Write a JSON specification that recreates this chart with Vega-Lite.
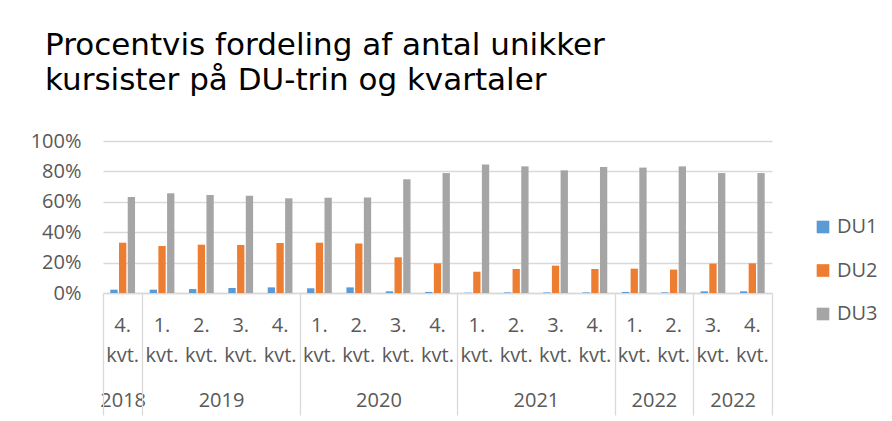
{
  "$schema": "https://vega.github.io/schema/vega-lite/v6.json",
  "width": 669,
  "height": 152,
  "autosize": "none",
  "padding": {"left": 103, "top": 141, "right": 120, "bottom": 128},
  "background": "white",
  "title": {
    "text": ["Procentvis fordeling af antal unikker", "kursister på DU-trin og kvartaler"],
    "anchor": "start",
    "frame": "group",
    "font": "DejaVu Sans",
    "fontSize": 31,
    "fontWeight": "normal",
    "color": "#000000",
    "lineHeight": 35,
    "dx": -58,
    "offset": 34
  },
  "config": {
    "view": {"stroke": null},
    "axis": {"labelFont": "Open Sans", "labelFontSize": 20, "labelColor": "#595959", "title": null}
  },
  "layer": [
    {
      "data": {
        "values": [
          {"key": "2018-4", "series": "DU1", "value": 0.022},
          {"key": "2018-4", "series": "DU2", "value": 0.331},
          {"key": "2018-4", "series": "DU3", "value": 0.632},
          {"key": "2019-1", "series": "DU1", "value": 0.022},
          {"key": "2019-1", "series": "DU2", "value": 0.309},
          {"key": "2019-1", "series": "DU3", "value": 0.656},
          {"key": "2019-2", "series": "DU1", "value": 0.026},
          {"key": "2019-2", "series": "DU2", "value": 0.318},
          {"key": "2019-2", "series": "DU3", "value": 0.645},
          {"key": "2019-3", "series": "DU1", "value": 0.033},
          {"key": "2019-3", "series": "DU2", "value": 0.316},
          {"key": "2019-3", "series": "DU3", "value": 0.640},
          {"key": "2019-4", "series": "DU1", "value": 0.037},
          {"key": "2019-4", "series": "DU2", "value": 0.329},
          {"key": "2019-4", "series": "DU3", "value": 0.623},
          {"key": "2020-1", "series": "DU1", "value": 0.031},
          {"key": "2020-1", "series": "DU2", "value": 0.331},
          {"key": "2020-1", "series": "DU3", "value": 0.627},
          {"key": "2020-2", "series": "DU1", "value": 0.037},
          {"key": "2020-2", "series": "DU2", "value": 0.325},
          {"key": "2020-2", "series": "DU3", "value": 0.629},
          {"key": "2020-3", "series": "DU1", "value": 0.011},
          {"key": "2020-3", "series": "DU2", "value": 0.235},
          {"key": "2020-3", "series": "DU3", "value": 0.748},
          {"key": "2020-4", "series": "DU1", "value": 0.007},
          {"key": "2020-4", "series": "DU2", "value": 0.195},
          {"key": "2020-4", "series": "DU3", "value": 0.789},
          {"key": "2021-1", "series": "DU1", "value": 0.002},
          {"key": "2021-1", "series": "DU2", "value": 0.140},
          {"key": "2021-1", "series": "DU3", "value": 0.846},
          {"key": "2021-2", "series": "DU1", "value": 0.004},
          {"key": "2021-2", "series": "DU2", "value": 0.158},
          {"key": "2021-2", "series": "DU3", "value": 0.833},
          {"key": "2021-3", "series": "DU1", "value": 0.004},
          {"key": "2021-3", "series": "DU2", "value": 0.180},
          {"key": "2021-3", "series": "DU3", "value": 0.807},
          {"key": "2021-4", "series": "DU1", "value": 0.004},
          {"key": "2021-4", "series": "DU2", "value": 0.158},
          {"key": "2021-4", "series": "DU3", "value": 0.829},
          {"key": "2022-1", "series": "DU1", "value": 0.007},
          {"key": "2022-1", "series": "DU2", "value": 0.160},
          {"key": "2022-1", "series": "DU3", "value": 0.825},
          {"key": "2022-2", "series": "DU1", "value": 0.004},
          {"key": "2022-2", "series": "DU2", "value": 0.154},
          {"key": "2022-2", "series": "DU3", "value": 0.833},
          {"key": "2022-3", "series": "DU1", "value": 0.011},
          {"key": "2022-3", "series": "DU2", "value": 0.193},
          {"key": "2022-3", "series": "DU3", "value": 0.789},
          {"key": "2022-4", "series": "DU1", "value": 0.011},
          {"key": "2022-4", "series": "DU2", "value": 0.195},
          {"key": "2022-4", "series": "DU3", "value": 0.789}
        ]
      },
      "mark": {"type": "bar"},
      "encoding": {
        "x": {
          "field": "key", "type": "nominal", "sort": null,
          "scale": {"paddingInner": 0, "paddingOuter": 0},
          "axis": {
            "orient": "bottom",
            "labelExpr": "[slice(datum.value, 5) + '.', 'kvt.']",
            "labelAngle": 0, "ticks": false, "domain": true, "domainColor": "#d9d9d9", "domainWidth": 1.3,
            "labelPadding": 38, "labelBaseline": "alphabetic", "labelLineHeight": 30, "grid": false
          }
        },
        "xOffset": {"field": "series", "type": "nominal", "scale": {"paddingInner": 0.16, "paddingOuter": 0.84}},
        "y": {
          "field": "value", "type": "quantitative",
          "scale": {"domain": [0, 1]},
          "axis": {
            "format": ".0%", "values": [0, 0.2, 0.4, 0.6, 0.8, 1], "ticks": false, "domain": false,
            "labelPadding": 22, "gridColor": "#d9d9d9", "gridWidth": 1.3
          }
        },
        "color": {
          "field": "series", "type": "nominal",
          "scale": {"domain": ["DU1", "DU2", "DU3"], "range": ["#5B9BD5", "#ED7D31", "#A5A5A5"]},
          "legend": {
            "orient": "none", "legendX": 710, "legendY": 76, "title": null,
            "symbolType": "square", "symbolSize": 160, "symbolStrokeWidth": 0,
            "labelFont": "Open Sans", "labelFontSize": 20, "labelColor": "#595959",
            "rowPadding": 23.5, "labelOffset": 4
          }
        }
      }
    },
    {
      "data": {
        "values": [
          {"year": "2018", "c": 0.5},
          {"year": "2019", "c": 3},
          {"year": "2020", "c": 7},
          {"year": "2021", "c": 11},
          {"year": "2022", "c": 14},
          {"year": "2022", "c": 16}
        ]
      },
      "mark": {"type": "point", "opacity": 0},
      "encoding": {
        "x": {
          "field": "c", "type": "quantitative",
          "scale": {"domain": [0, 17], "nice": false, "zero": false},
          "axis": {
            "orient": "bottom", "values": [0.5, 3, 7, 11, 14, 16],
            "labelExpr": "datum.value == 0.5 ? '2018' : datum.value == 3 ? '2019' : datum.value == 7 ? '2020' : datum.value == 11 ? '2021' : '2022'",
            "ticks": false, "domain": false, "grid": false, "labelFlush": false,
            "labelPadding": 113, "labelBaseline": "alphabetic"
          }
        }
      }
    },
    {
      "data": {
        "values": [{"b": 0}, {"b": 1}, {"b": 5}, {"b": 9}, {"b": 13}, {"b": 15}, {"b": 17}]
      },
      "mark": {"type": "point", "opacity": 0},
      "encoding": {
        "x": {
          "field": "b", "type": "quantitative",
          "scale": {"domain": [0, 17], "nice": false, "zero": false},
          "axis": {
            "orient": "bottom", "values": [0, 1, 5, 9, 13, 15, 17],
            "labels": false, "ticks": true, "tickSize": 122, "tickColor": "#d9d9d9", "tickWidth": 1.3,
            "domain": false, "grid": false
          }
        }
      }
    }
  ],
  "resolve": {"scale": {"x": "independent"}, "axis": {"x": "independent"}}
}
